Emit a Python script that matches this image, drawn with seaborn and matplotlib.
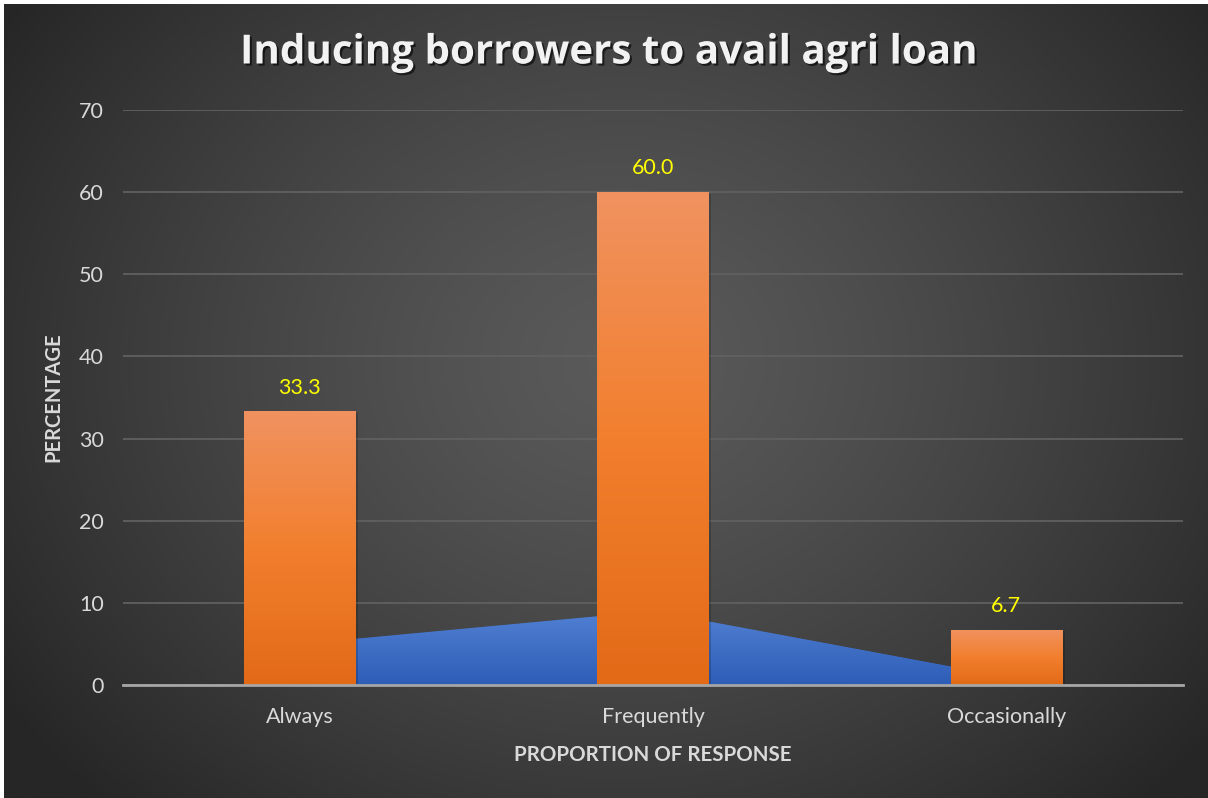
import numpy as np
import pandas as pd
import matplotlib
matplotlib.use("Agg")
import matplotlib.pyplot as plt
import seaborn as sns
from matplotlib import patheffects as pe
from matplotlib.colors import LinearSegmentedColormap

# Survey results
categories = ["Always", "Frequently", "Occasionally"]
percentages = [33.3, 60.0, 6.7]
respondents = [5, 9, 1]
y_ticks = [0, 10, 20, 30, 40, 50, 60, 70]

title_text = "Inducing borrowers to avail agri loan"
x_title = "PROPORTION OF RESPONSE"
y_title = "PERCENTAGE"

sns.set_theme(style="dark")
plt.rcParams["font.family"] = ["Lato", "DejaVu Sans"]

W, H = 1208, 798
fig = plt.figure(figsize=(W / 100, H / 100), dpi=100, facecolor="white")

# Dark radial-gradient backdrop
bg = fig.add_axes([4 / W, 0, 1 - 4 / W, 1 - 4 / H], zorder=-10)
yy, xx = np.mgrid[0:H, 0:W]
r = np.sqrt(((xx - 620) / (W * 0.62)) ** 2 + ((yy - 360) / (H * 0.78)) ** 2)
r = np.clip(r, 0, 1)
shade = (0x5a - (0x5a - 0x26) * r ** 1.3) / 255.0
bg.imshow(np.dstack([shade, shade, shade]), aspect="auto", interpolation="bilinear")
bg.set_axis_off()

ax = fig.add_axes([123 / W, (H - 685) / H, 1060 / W, 575 / H])
ax.patch.set_alpha(0)

df = pd.DataFrame({"category": categories, "percentage": percentages,
                   "respondents": respondents})
xpos = np.arange(len(categories))

# Blue area series behind the bars
area = ax.fill_between(xpos, df["respondents"], 0, color="#3f6fc8", lw=0, zorder=2)
blue_cmap = LinearSegmentedColormap.from_list("blue", ["#2d5db6", "#5180d3"])
grad = np.linspace(0, 1, 256).reshape(-1, 1)
img = ax.imshow(grad, cmap=blue_cmap, origin="lower", aspect="auto",
                extent=(0, 2, 0, max(respondents)), zorder=2.1, interpolation="bilinear")
img.set_clip_path(area.get_paths()[0], transform=ax.transData)

# Orange bars
sns.barplot(data=df, x="category", y="percentage", color="#ed7d31", width=0.315,
            saturation=1, ax=ax, zorder=3)
orange_cmap = LinearSegmentedColormap.from_list("orange", ["#e26a17", "#f27f2e", "#f09260"])
bars = ax.containers[0]
for bar in bars:
    bar.set_linewidth(0)
    bar.set_path_effects([pe.SimplePatchShadow(offset=(2, -1), shadow_rgbFace="black",
                                               alpha=0.18), pe.Normal()])
    x0, y0 = bar.get_x(), bar.get_y()
    bw, bh = bar.get_width(), bar.get_height()
    g = ax.imshow(grad, cmap=orange_cmap, origin="lower", aspect="auto",
                  extent=(x0, x0 + bw, y0, y0 + bh), zorder=3.1, interpolation="bilinear")
    g.set_clip_path(bar)

ax.bar_label(bars, fmt="%.1f", padding=10, color="#ffff00", fontsize=15.5, zorder=5)

ax.set_xlim(-0.5, len(categories) - 0.5)
ax.set_ylim(0, 70)
ax.set_yticks(y_ticks)
ax.yaxis.grid(True, color="#606060", lw=1.3, zorder=0)
ax.xaxis.grid(False)
ax.set_axisbelow(True)

for s in ["top", "right", "left"]:
    ax.spines[s].set_visible(False)
ax.spines["bottom"].set_color("#a6a6a6")
ax.spines["bottom"].set_linewidth(2)
ax.spines["bottom"].set_zorder(6)

ax.tick_params(axis="y", length=0, pad=14, labelcolor="#d9d9d9", labelsize=15.5)
ax.tick_params(axis="x", which="major", length=0, pad=16, labelcolor="#d9d9d9",
               labelsize=15.5)
ax.set_xticks(np.arange(-0.5, len(categories), 1.0), minor=True)
ax.tick_params(axis="x", which="minor", length=6, width=2, color="#a6a6a6")

ax.set_xlabel(x_title, color="#d9d9d9", fontsize=14.8, fontweight="bold", va="top")
ax.set_ylabel(y_title, color="#d9d9d9", fontsize=14.5, fontweight="bold")
ax.xaxis.set_label_coords(0.5, -0.104)
ax.yaxis.set_label_coords(-0.0566, 0.5)

fig.text(608 / W, 1 - 53 / H, title_text, ha="center", va="center", fontsize=29,
         fontweight="bold", color="#f2f2f2", family=["Open Sans", "DejaVu Sans"],
         path_effects=[pe.SimplePatchShadow(offset=(1.5, -1.5), shadow_rgbFace="black",
                                            alpha=0.6), pe.Normal()])

fig.savefig("out.png", dpi=100, facecolor="white")
